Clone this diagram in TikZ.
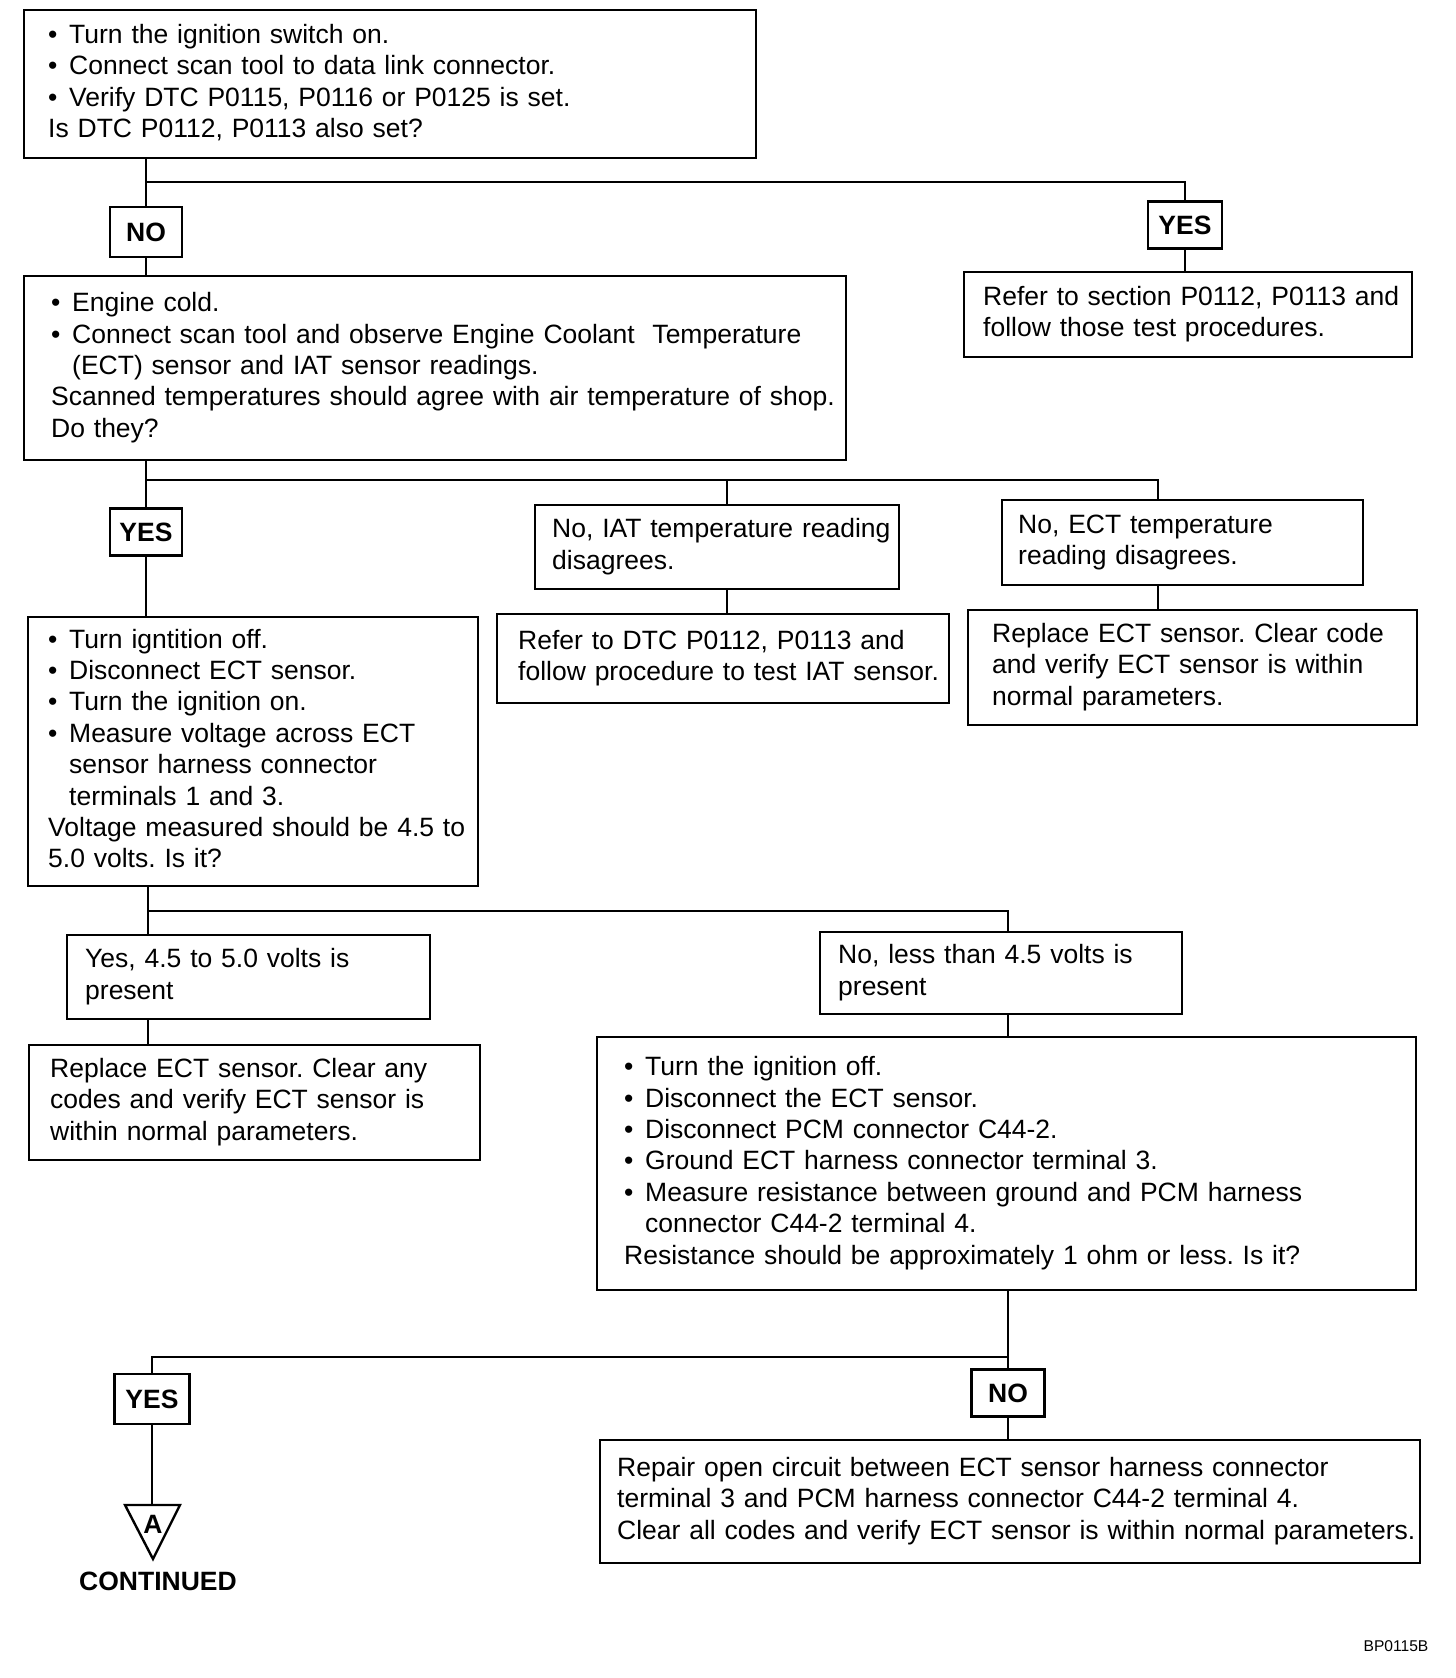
\documentclass[tikz,border=0pt]{standalone}
\usepackage{fontspec}
\setmainfont{Liberation Sans}
\setlength{\parindent}{0pt}
\frenchspacing
\newcommand{\bodysize}{\fontsize{13.25}{15.7}\selectfont}
\newcommand{\itm}{\makebox[10.5pt][l]{\textbullet}}
\newcommand{\hang}{\hspace*{10.5pt}}
\newcommand{\boxlines}[1]{\begin{tabular}{@{}l@{}}#1\end{tabular}}
\tikzset{
  flowbox/.style={draw, line width=1.2pt, anchor=north west, inner ysep=0pt, align=left},
  answer/.style={draw, line width=1.2pt, font=\bodysize\bfseries, inner sep=0pt},
  link/.style={line width=1.2pt}
}

\begin{document}
\begin{tikzpicture}[x=0.5pt,y=-0.5pt,font=\bodysize]
	\useasboundingbox (0,0) rectangle (1456,1678);
	% boxes
	\node[flowbox, inner xsep=12pt, text width=342pt, minimum height=74pt] (b1) at (23,9)
		{\boxlines{\itm Turn the ignition switch on.\\
		\itm Connect scan tool to data link connector.\\
		\itm Verify DTC P0115, P0116 or P0125 is set.\\
		Is DTC P0112, P0113 also set?}};
	\node[flowbox, inner xsep=13.5pt, text width=384pt, minimum height=92pt] (b2) at (23,275)
		{\boxlines{\itm Engine cold.\\
		\itm Connect scan tool and observe Engine Coolant\ \ Temperature\\
		\hang (ECT) sensor and IAT sensor readings.\\
		Scanned temperatures should agree with air temperature of shop.\\
		Do they?}};
	\node[flowbox, inner xsep=9.5pt, text width=205pt, minimum height=42.5pt] (r1) at (963,271)
		{\boxlines{Refer to section P0112, P0113 and\\
		follow those test procedures.}};
	\node[flowbox, inner xsep=8.5pt, text width=165pt, minimum height=42pt] (iat) at (534,504)
		{\boxlines{No, IAT temperature reading\\
		disagrees.}};
	\node[flowbox, inner xsep=10.5pt, text width=205pt, minimum height=44.5pt] (r2) at (496,613)
		{\boxlines{Refer to DTC P0112, P0113 and\\
		follow procedure to test IAT sensor.}};
	\node[flowbox, inner xsep=8pt, text width=164.5pt, minimum height=42.5pt] (ect) at (1001,499)
		{\boxlines{No, ECT temperature\\
		reading disagrees.}};
	\node[flowbox, inner xsep=12pt, text width=200.5pt, minimum height=57.5pt] (r3) at (967,609)
		{\boxlines{Replace ECT sensor. Clear code\\
		and verify ECT sensor is within\\
		normal parameters.}};
	\node[flowbox, inner xsep=10pt, text width=205pt, minimum height=134.5pt] (b3) at (27,616)
		{\boxlines{\itm Turn igntition off.\\
		\itm Disconnect ECT sensor.\\
		\itm Turn the ignition on.\\
		\itm Measure voltage across ECT\\
		\hang sensor harness connector\\
		\hang terminals 1 and 3.\\
		Voltage measured should be 4.5 to\\
		5.0 volts. Is it?}};
	\node[flowbox, inner xsep=9pt, text width=163.5pt, minimum height=42pt] (y45) at (66,934)
		{\boxlines{Yes, 4.5 to 5.0 volts is\\
		present}};
	\node[flowbox, inner xsep=10.5pt, text width=204.5pt, minimum height=57.5pt] (r4) at (28,1044)
		{\boxlines{Replace ECT sensor. Clear any\\
		codes and verify ECT sensor is\\
		within normal parameters.}};
	\node[flowbox, inner xsep=9pt, text width=163pt, minimum height=41pt] (n45) at (819,931)
		{\boxlines{No, less than 4.5 volts is\\
		present}};
	\node[flowbox, inner xsep=13.5pt, text width=382.5pt, minimum height=126.5pt] (b4) at (596,1036)
		{\boxlines{\itm Turn the ignition off.\\
		\itm Disconnect the ECT sensor.\\
		\itm Disconnect PCM connector C44-2.\\
		\itm Ground ECT harness connector terminal 3.\\
		\itm Measure resistance between ground and PCM harness\\
		\hang connector C44-2 terminal 4.\\
		Resistance should be approximately 1 ohm or less. Is it?}};
	\node[flowbox, inner xsep=8.5pt, text width=393pt, minimum height=61.5pt] (r5) at (599,1439)
		{\boxlines{Repair open circuit between ECT sensor harness connector\\
		terminal 3 and PCM harness connector C44-2 terminal 4.\\
		Clear all codes and verify ECT sensor is within normal parameters.}};
	% answers
	\node[answer, minimum width=36pt, minimum height=25pt] (no1) at (146,232) {NO};
	\node[answer, minimum width=37pt, minimum height=23.5pt] (yes1) at (1185,225) {YES};
	\node[answer, minimum width=36pt, minimum height=23.5pt] (yes2) at (146,532) {YES};
	\node[answer, minimum width=37.5pt, minimum height=25pt] (yes3) at (152,1399) {YES};
	\node[answer, minimum width=36.5pt, minimum height=23.5pt] (no3) at (1008,1393) {NO};
	% junctions
	\coordinate (j1) at (146,182);
	\coordinate (j2) at (146,480);
	\coordinate (t2) at (727,480);
	\coordinate (t3) at (1158,480);
	\coordinate (j3) at (148,911);
	\coordinate (t4) at (1008,911);
	\coordinate (j4) at (1008,1357);
	\coordinate (tri) at (152,1505);
	% connectors
	\draw[link] (b1.south -| j1) -- (no1.north);
	\draw[link] (no1.south) -- (no1.south |- b2.north);
	\draw[link] (j1) -| (yes1.north);
	\draw[link] (yes1.south) -- (yes1.south |- r1.north);
	\draw[link] (b2.south -| j2) -- (yes2.north);
	\draw[link] (yes2.south) -- (yes2.south |- b3.north);
	\draw[link] (j2) -- (t3) -- (t3 |- ect.north);
	\draw[link] (t2) -- (t2 |- iat.north);
	\draw[link] (t2 |- iat.south) -- (t2 |- r2.north);
	\draw[link] (t3 |- ect.south) -- (t3 |- r3.north);
	\draw[link] (b3.south -| j3) -- (j3 |- y45.north);
	\draw[link] (j3) -- (t4) -- (t4 |- n45.north);
	\draw[link] (j3 |- y45.south) -- (j3 |- r4.north);
	\draw[link] (t4 |- n45.south) -- (t4 |- b4.north);
	\draw[link] (b4.south -| j4) -- (no3.north);
	\draw[link] (j4) -| (yes3.north);
	\draw[link] (no3.south) -- (no3.south |- r5.north);
	\draw[link] (yes3.south) -- (tri);
	% continued mark
	\draw[link, line join=miter] (125,1505) -- (180,1505) -- (153,1559) -- cycle;
	\node[font=\bodysize\bfseries] (a) at (153,1524) {A};
	\node[font=\bodysize\bfseries] (cont) at (158,1581) {CONTINUED};
	\node[font=\fontsize{7.8}{9}\selectfont] (code) at (1396,1646) {BP0115B};
\end{tikzpicture}
\end{document}
